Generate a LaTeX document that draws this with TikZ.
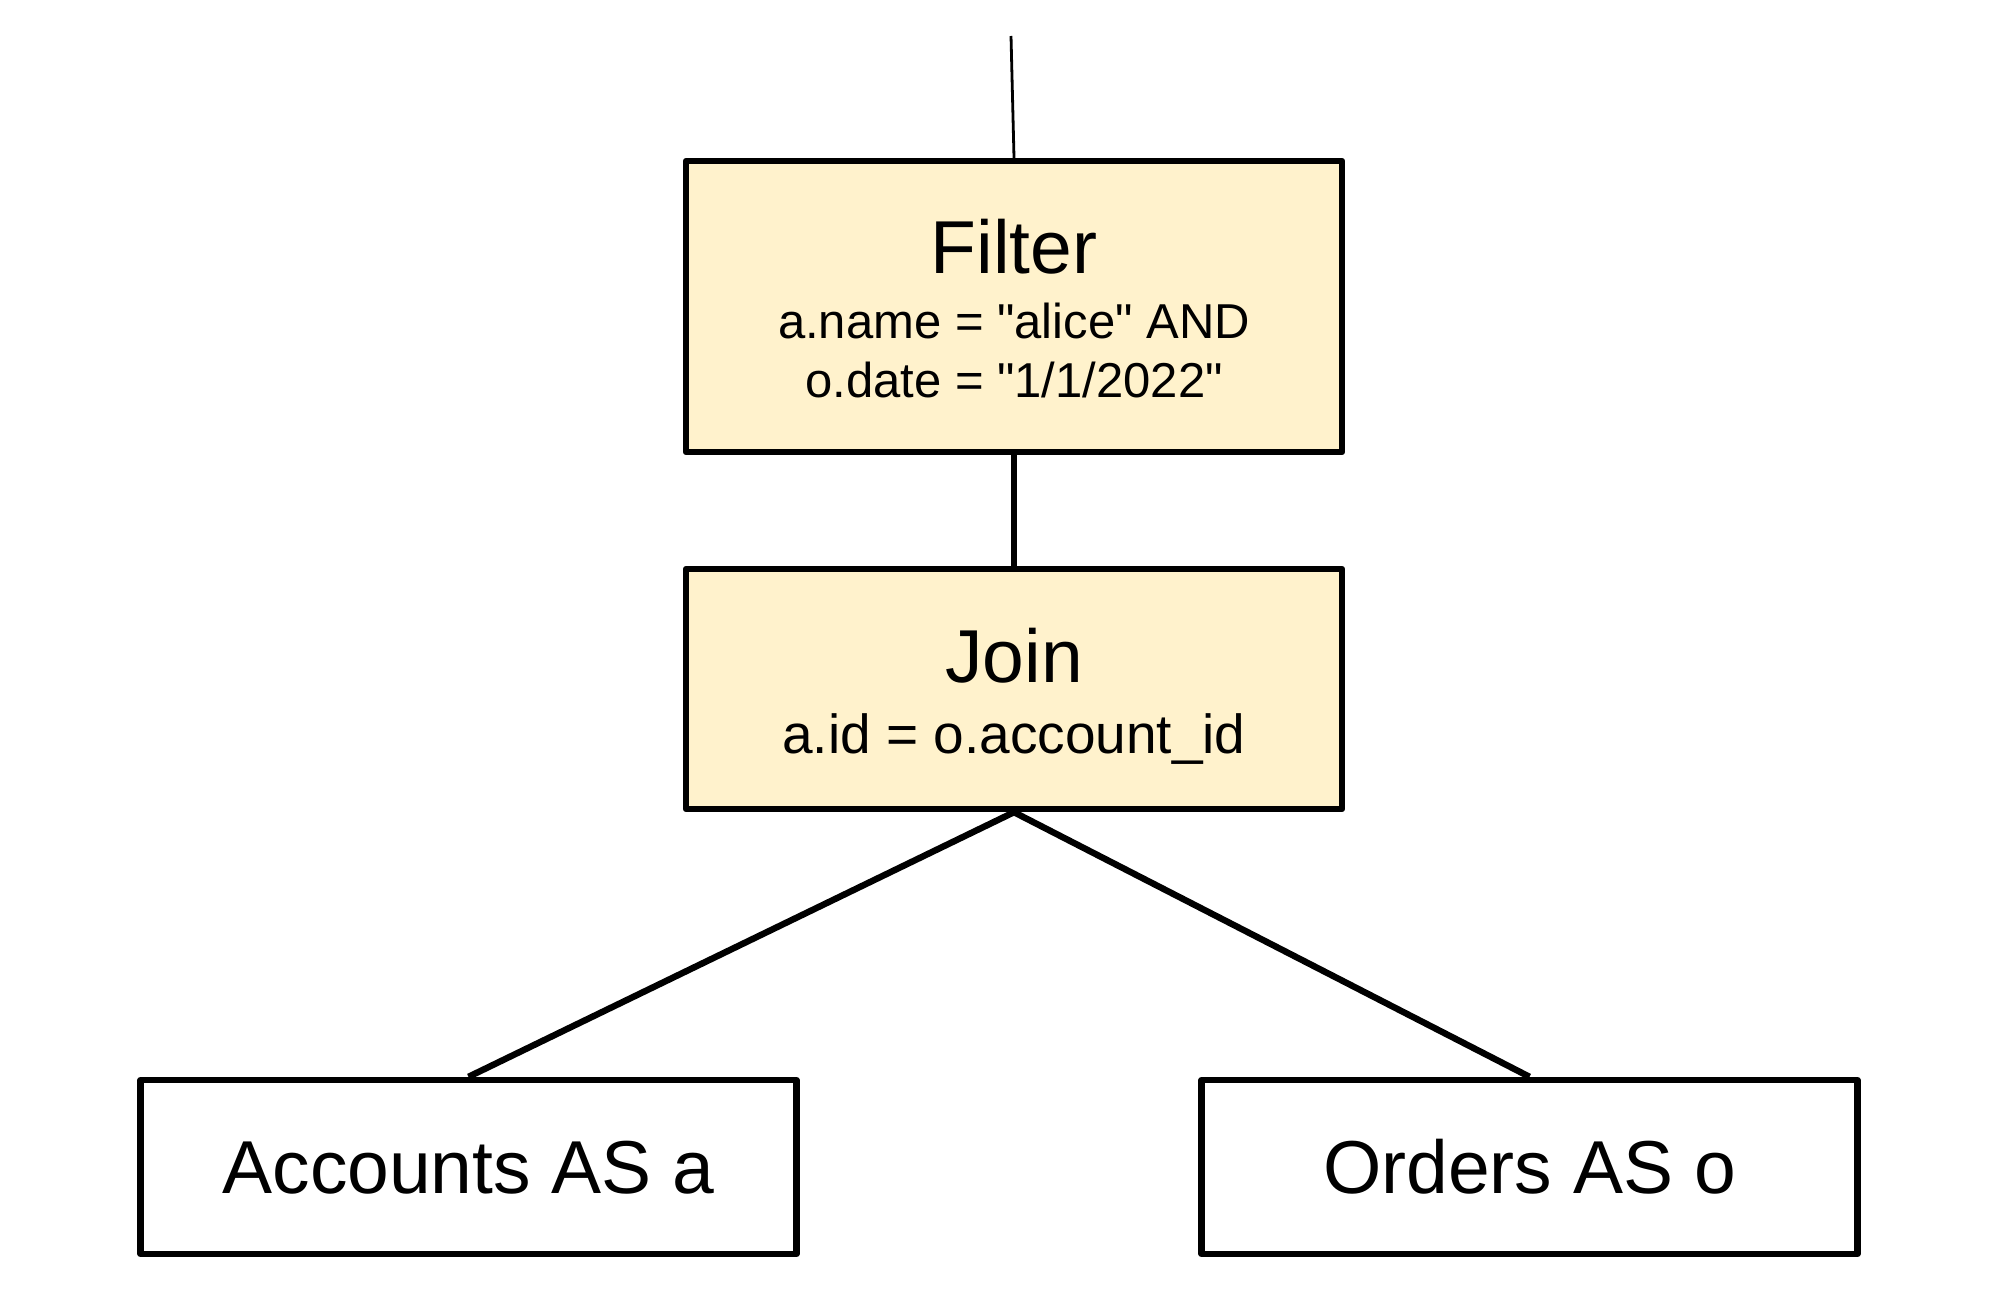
\documentclass[tikz,border=0pt]{standalone}
\usepackage{fontspec}
\setmainfont{Liberation Sans}[Ligatures=TeXOff]
\definecolor{boxfill}{HTML}{FFF2CC}
\tikzset{
  opbox/.style={draw=black, line width=3.2pt, line join=round, fill=boxfill, inner sep=0pt, minimum width=328pt},
  relbox/.style={draw=black, line width=3.2pt, line join=round, fill=white, inner sep=0pt, minimum width=328pt, minimum height=87pt},
  conn/.style={draw=black, line width=3.2pt},
  thinconn/.style={draw=black, line width=1.4pt},
  titletext/.style={anchor=base, inner sep=0pt, font=\fontsize{37.5pt}{45pt}\selectfont},
  subtext/.style={anchor=base, inner sep=0pt, font=\fontsize{24.5pt}{30pt}\selectfont},
  subtextb/.style={anchor=base, inner sep=0pt, font=\fontsize{27.5pt}{33pt}\selectfont}
}
\begin{document}
\begin{tikzpicture}[x=0.5pt, y=-0.5pt]
\useasboundingbox[fill=white] (0,0) rectangle (2000,1295);
% boxes
\node[opbox, minimum height=145.5pt] (filter) at (1014,306.5) {};
\node[opbox, minimum height=120pt] (join) at (1014,689) {};
\node[relbox] (acc) at (468.5,1167) {};
\node[relbox] (ord) at (1529.5,1167) {};
% texts
\node[titletext] (filterT) at (1014,273) {Filter};
\node[subtext] (filterA) at (1014,338) {a.name = "alice" AND};
\node[subtext] (filterB) at (1014,397) {o.date = "1/1/2022"};
\node[titletext] (joinT) at (1014,682) {Join};
\node[subtextb] (joinA) at (1014,753) {a.id = o.account\_id};
\node[titletext] (accT) at (468.5,1193) {Accounts AS a};
\node[titletext] (ordT) at (1529.5,1193) {Orders AS o};
% connectors
\coordinate (top) at (1011,36);
\draw[thinconn] (top) -- (filter.north);
\draw[conn] (filter.south) -- (join.north);
\draw[conn] (join.south) -- (acc.north);
\draw[conn] (join.south) -- (ord.north);
\end{tikzpicture}
\end{document}
